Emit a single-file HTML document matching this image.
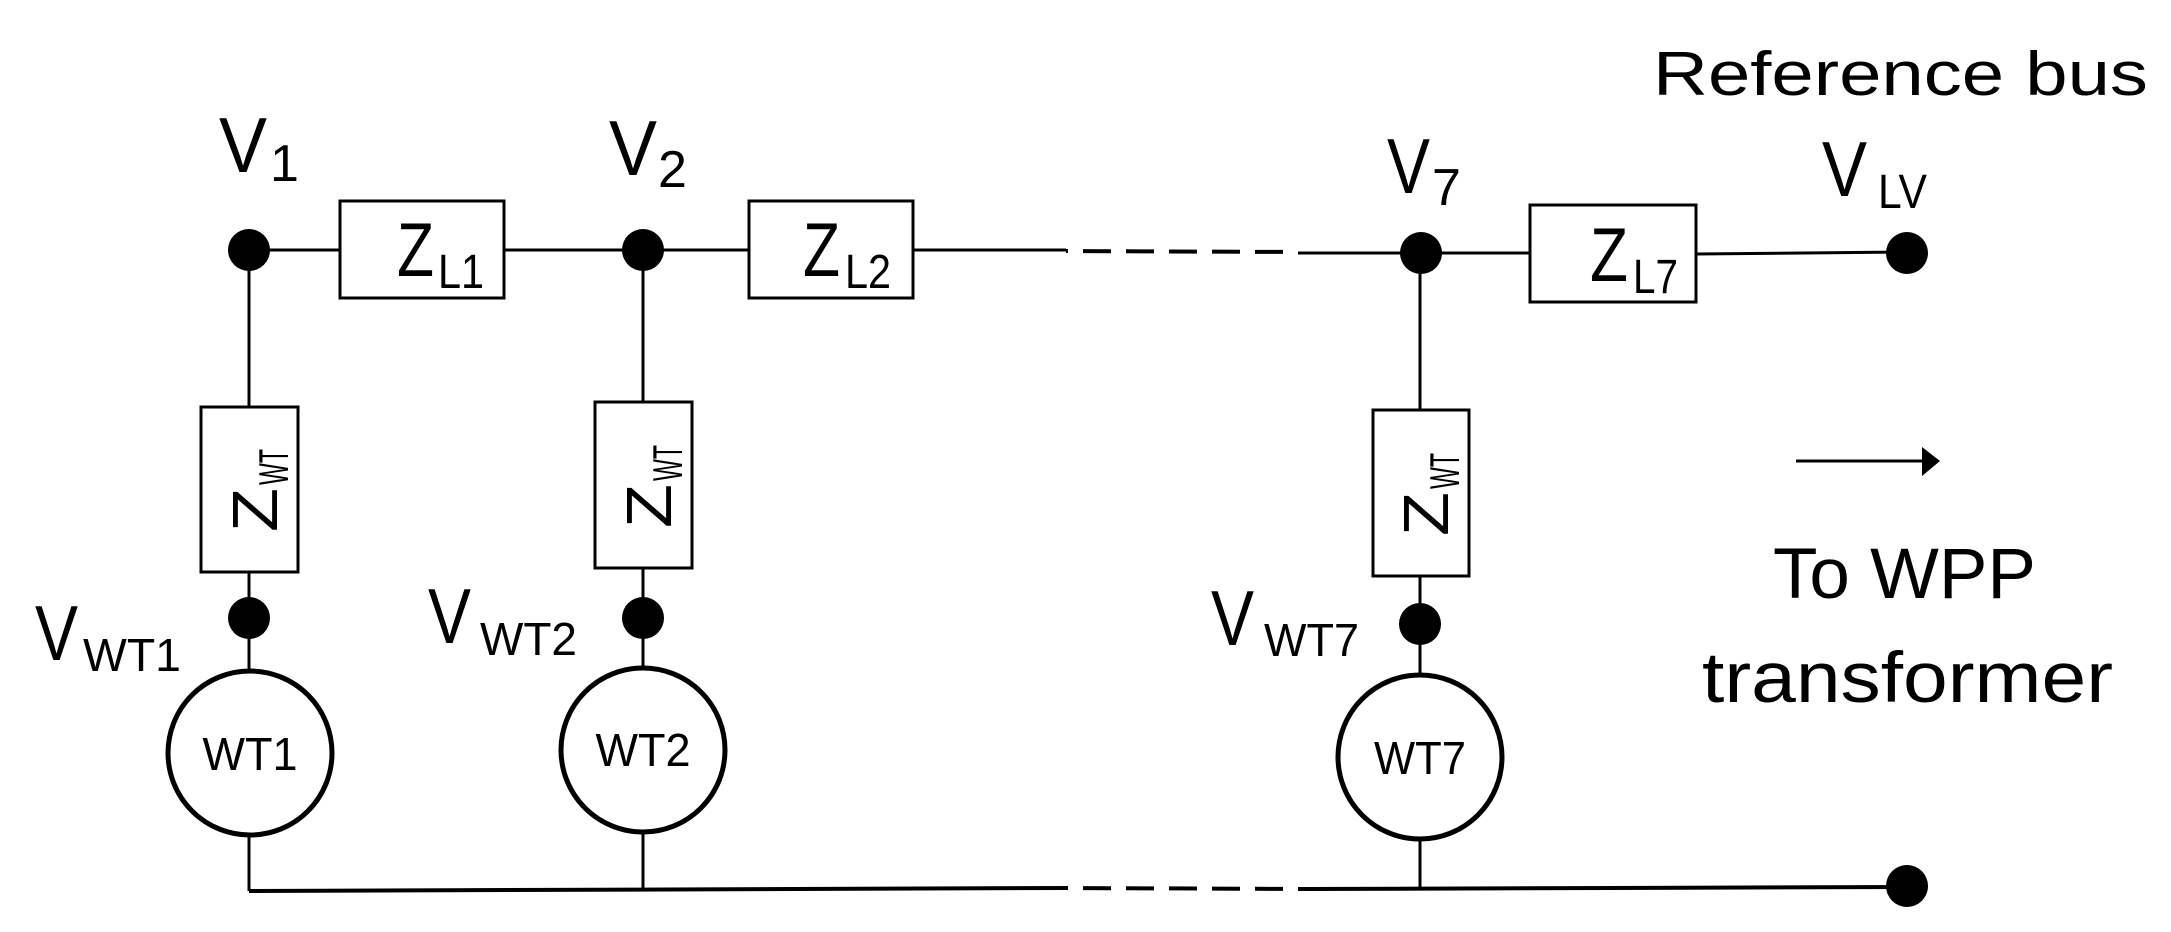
<!DOCTYPE html>
<html><head><meta charset="utf-8"><style>
html,body{margin:0;padding:0;background:#fff;}
svg{display:block;}
text{font-family:"Liberation Sans",sans-serif;fill:#000;}
</style></head><body>
<svg width="2171" height="932" viewBox="0 0 2171 932" xmlns="http://www.w3.org/2000/svg">
<g stroke="#000" stroke-width="3" fill="none">
  <line x1="249" y1="250" x2="1066" y2="250"/>
  <line x1="1066" y1="251" x2="1298" y2="252" stroke-dasharray="28 15" stroke-dashoffset="-17" stroke-width="4"/>
  <line x1="1298" y1="253" x2="1530" y2="253"/>
  <line x1="1696" y1="254" x2="1907" y2="252"/>
  <line x1="249" y1="891" x2="1066" y2="888" stroke-width="4"/>
  <line x1="1066" y1="888" x2="1306" y2="889" stroke-dasharray="28 15" stroke-dashoffset="-17" stroke-width="4"/>
  <line x1="1306" y1="889" x2="1907" y2="887" stroke-width="4"/>
  <line x1="249" y1="250" x2="249" y2="891"/>
  <line x1="643" y1="250" x2="643" y2="888"/>
  <line x1="1420" y1="253" x2="1420" y2="889"/>
  <rect x="340" y="201" width="164" height="97" fill="#fff"/>
  <rect x="749" y="201" width="164" height="97" fill="#fff"/>
  <rect x="1530" y="205" width="166" height="97" fill="#fff"/>
  <rect x="201" y="407" width="97" height="165" fill="#fff"/>
  <rect x="595" y="402" width="97" height="166" fill="#fff"/>
  <rect x="1373" y="410" width="96" height="166" fill="#fff"/>
  <circle cx="250" cy="753" r="82" fill="#fff" stroke-width="5"/>
  <circle cx="643" cy="750" r="82" fill="#fff" stroke-width="5"/>
  <circle cx="1420" cy="757" r="82" fill="#fff" stroke-width="5"/>
  <line x1="1796" y1="461" x2="1925" y2="461"/>
</g>
<polygon points="1922,447 1940,461 1922,476" fill="#000"/>
<g fill="#000">
  <circle cx="249" cy="250" r="21"/>
  <circle cx="643" cy="250" r="21"/>
  <circle cx="1421" cy="253" r="21"/>
  <circle cx="1907" cy="253" r="21"/>
  <circle cx="249" cy="618" r="21"/>
  <circle cx="643" cy="618" r="21"/>
  <circle cx="1420" cy="624" r="21"/>
  <circle cx="1907" cy="886" r="21"/>
</g>
<text x="219" y="172" font-size="78" textLength="48" lengthAdjust="spacingAndGlyphs">V</text>
<text x="270" y="181" font-size="52">1</text>
<text x="609" y="175" font-size="78" textLength="48" lengthAdjust="spacingAndGlyphs">V</text>
<text x="658" y="187" font-size="52">2</text>
<text x="1387" y="193" font-size="78" textLength="43" lengthAdjust="spacingAndGlyphs">V</text>
<text x="1432" y="205" font-size="52">7</text>
<text x="1822" y="196" font-size="78" textLength="45" lengthAdjust="spacingAndGlyphs">V</text>
<text x="1878" y="208" font-size="48" textLength="49" lengthAdjust="spacingAndGlyphs">LV</text>
<text x="1653" y="95" font-size="62" textLength="495" lengthAdjust="spacingAndGlyphs">Reference bus</text>
<text x="397" y="276" font-size="76" textLength="37" lengthAdjust="spacingAndGlyphs">Z</text>
<text x="438" y="288" font-size="48" textLength="46" lengthAdjust="spacingAndGlyphs">L1</text>
<text x="803" y="276" font-size="76" textLength="37" lengthAdjust="spacingAndGlyphs">Z</text>
<text x="845" y="288" font-size="48" textLength="46" lengthAdjust="spacingAndGlyphs">L2</text>
<text x="1590" y="281" font-size="76" textLength="38" lengthAdjust="spacingAndGlyphs">Z</text>
<text x="1633" y="293" font-size="48" textLength="45" lengthAdjust="spacingAndGlyphs">L7</text>
<g transform="translate(277,532) rotate(-90)">
  <text x="0" y="0" font-size="64" textLength="44" lengthAdjust="spacingAndGlyphs">Z</text>
  <text x="47" y="11" font-size="42" textLength="36" lengthAdjust="spacingAndGlyphs">WT</text>
</g>
<g transform="translate(671,528) rotate(-90)">
  <text x="0" y="0" font-size="64" textLength="44" lengthAdjust="spacingAndGlyphs">Z</text>
  <text x="47" y="11" font-size="42" textLength="36" lengthAdjust="spacingAndGlyphs">WT</text>
</g>
<g transform="translate(1448,536) rotate(-90)">
  <text x="0" y="0" font-size="64" textLength="44" lengthAdjust="spacingAndGlyphs">Z</text>
  <text x="47" y="11" font-size="42" textLength="36" lengthAdjust="spacingAndGlyphs">WT</text>
</g>
<text x="35" y="660" font-size="78" textLength="43" lengthAdjust="spacingAndGlyphs">V</text>
<text x="83" y="671" font-size="46" textLength="98" lengthAdjust="spacingAndGlyphs">WT1</text>
<text x="428" y="643" font-size="78" textLength="43" lengthAdjust="spacingAndGlyphs">V</text>
<text x="480" y="655" font-size="46" textLength="97" lengthAdjust="spacingAndGlyphs">WT2</text>
<text x="1211" y="645" font-size="78" textLength="43" lengthAdjust="spacingAndGlyphs">V</text>
<text x="1264" y="656" font-size="46" textLength="95" lengthAdjust="spacingAndGlyphs">WT7</text>
<text x="250" y="770" font-size="46" text-anchor="middle" textLength="95" lengthAdjust="spacingAndGlyphs">WT1</text>
<text x="643" y="766" font-size="46" text-anchor="middle" textLength="95" lengthAdjust="spacingAndGlyphs">WT2</text>
<text x="1420" y="774" font-size="46" text-anchor="middle" textLength="92" lengthAdjust="spacingAndGlyphs">WT7</text>
<text x="1773" y="598" font-size="71" textLength="263" lengthAdjust="spacingAndGlyphs">To WPP</text>
<text x="1702" y="702" font-size="71" textLength="411" lengthAdjust="spacingAndGlyphs">transformer</text>
</svg>
</body></html>
